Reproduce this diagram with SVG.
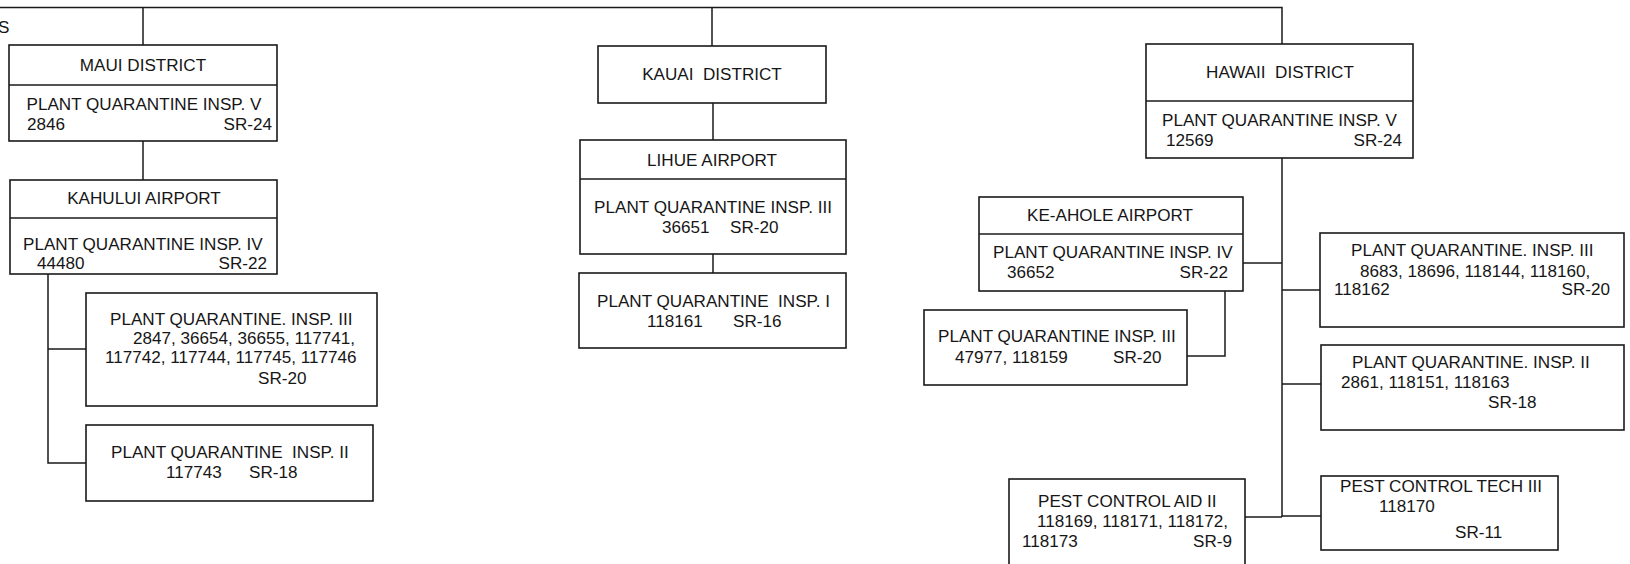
<svg xmlns="http://www.w3.org/2000/svg" width="1630" height="564" viewBox="0 0 1630 564">
<style>
.b{fill:#fff;stroke:#1a1a1a;stroke-width:1.6}
.l{fill:none;stroke:#1a1a1a;stroke-width:1.5}
text{font-family:"Liberation Sans",Arial,sans-serif;font-size:17.1px;fill:#161616;white-space:pre}
.m{text-anchor:middle}
.e{text-anchor:end}
</style>
<rect width="1630" height="564" fill="#fff"/>
<g id="connectors">
<path class="l" d="M0,7.5 H1282 V44"/>
<path class="l" d="M143,7.5 V45"/>
<path class="l" d="M712,7.5 V46"/>
<path class="l" d="M143,141 V180"/>
<path class="l" d="M48,274 V463 H86 M48,349 H86"/>
<path class="l" d="M713,103 V140"/>
<path class="l" d="M713,254 V273"/>
<path class="l" d="M1282,158 V517"/>
<path class="l" d="M1243,263 H1282"/>
<path class="l" d="M1225,291 V356 H1187"/>
<path class="l" d="M1282,290 H1320"/>
<path class="l" d="M1282,384 H1321"/>
<path class="l" d="M1282,516 H1321"/>
<path class="l" d="M1245,517 H1282"/>
</g>
<text x="-2" y="33">S</text>
<g id="maui">
<rect class="b" x="9" y="45" width="268" height="96"/>
<line class="l" x1="9" y1="85" x2="277" y2="85"/>
<text class="m" x="143" y="71">MAUI DISTRICT</text>
<text class="m" x="144" y="110">PLANT QUARANTINE INSP. V</text>
<text x="27" y="130">2846</text>
<text class="e" x="272" y="130">SR-24</text>
</g>
<g id="kahului">
<rect class="b" x="10" y="180" width="267" height="94"/>
<line class="l" x1="10" y1="218" x2="277" y2="218"/>
<text class="m" x="144" y="204">KAHULUI AIRPORT</text>
<text x="23" y="250">PLANT QUARANTINE INSP. IV</text>
<text x="37" y="269">44480</text>
<text class="e" x="267" y="269">SR-22</text>
</g>
<g id="maui-pq3">
<rect class="b" x="86" y="293" width="291" height="113"/>
<text x="110" y="325">PLANT QUARANTINE. INSP. III</text>
<text x="133" y="344">2847, 36654, 36655, 117741,</text>
<text x="105" y="363">117742, 117744, 117745, 117746</text>
<text x="258" y="384">SR-20</text>
</g>
<g id="maui-pq2">
<rect class="b" x="86" y="425" width="287" height="76"/>
<text x="111" y="458">PLANT QUARANTINE  INSP. II</text>
<text x="166" y="478">117743</text>
<text x="249" y="478">SR-18</text>
</g>
<g id="kauai">
<rect class="b" x="598" y="46" width="228" height="57"/>
<text class="m" x="712" y="80">KAUAI  DISTRICT</text>
</g>
<g id="lihue">
<rect class="b" x="580" y="140" width="266" height="114"/>
<line class="l" x1="580" y1="179" x2="846" y2="179"/>
<text class="m" x="712" y="166">LIHUE AIRPORT</text>
<text class="m" x="713" y="213">PLANT QUARANTINE INSP. III</text>
<text x="662" y="233">36651</text>
<text x="730" y="233">SR-20</text>
</g>
<g id="kauai-pq1">
<rect class="b" x="579" y="273" width="267" height="75"/>
<text x="597" y="307">PLANT QUARANTINE  INSP. I</text>
<text x="647" y="327">118161</text>
<text x="733" y="327">SR-16</text>
</g>
<g id="hawaii">
<rect class="b" x="1146" y="44" width="267" height="114"/>
<line class="l" x1="1146" y1="101" x2="1413" y2="101"/>
<text class="m" x="1280" y="78">HAWAII  DISTRICT</text>
<text x="1162" y="126">PLANT QUARANTINE INSP. V</text>
<text x="1166" y="146">12569</text>
<text class="e" x="1402" y="146">SR-24</text>
</g>
<g id="keahole">
<rect class="b" x="979" y="197" width="264" height="94"/>
<line class="l" x1="979" y1="234" x2="1243" y2="234"/>
<text class="m" x="1110" y="221">KE-AHOLE AIRPORT</text>
<text x="993" y="258">PLANT QUARANTINE INSP. IV</text>
<text x="1007" y="278">36652</text>
<text class="e" x="1228" y="278">SR-22</text>
</g>
<g id="keahole-pq3">
<rect class="b" x="924" y="310" width="263" height="75"/>
<text x="938" y="342">PLANT QUARANTINE INSP. III</text>
<text x="955" y="363">47977, 118159</text>
<text x="1113" y="363">SR-20</text>
</g>
<g id="hawaii-pq3">
<rect class="b" x="1320" y="233" width="304" height="94"/>
<text x="1351" y="256">PLANT QUARANTINE. INSP. III</text>
<text x="1360" y="277">8683, 18696, 118144, 118160,</text>
<text x="1334" y="295">118162</text>
<text class="e" x="1610" y="295">SR-20</text>
</g>
<g id="hawaii-pq2">
<rect class="b" x="1321" y="345" width="303" height="85"/>
<text x="1352" y="368">PLANT QUARANTINE. INSP. II</text>
<text x="1341" y="388">2861, 118151, 118163</text>
<text x="1488" y="408">SR-18</text>
</g>
<g id="pest-aid">
<rect class="b" x="1009" y="479" width="236" height="92"/>
<text x="1038" y="507">PEST CONTROL AID II</text>
<text x="1037" y="527">118169, 118171, 118172,</text>
<text x="1022" y="547">118173</text>
<text class="e" x="1232" y="547">SR-9</text>
</g>
<g id="pest-tech">
<rect class="b" x="1321" y="476" width="237" height="74"/>
<text x="1340" y="492">PEST CONTROL TECH III</text>
<text x="1379" y="512">118170</text>
<text x="1455" y="538">SR-11</text>
</g>
</svg>
